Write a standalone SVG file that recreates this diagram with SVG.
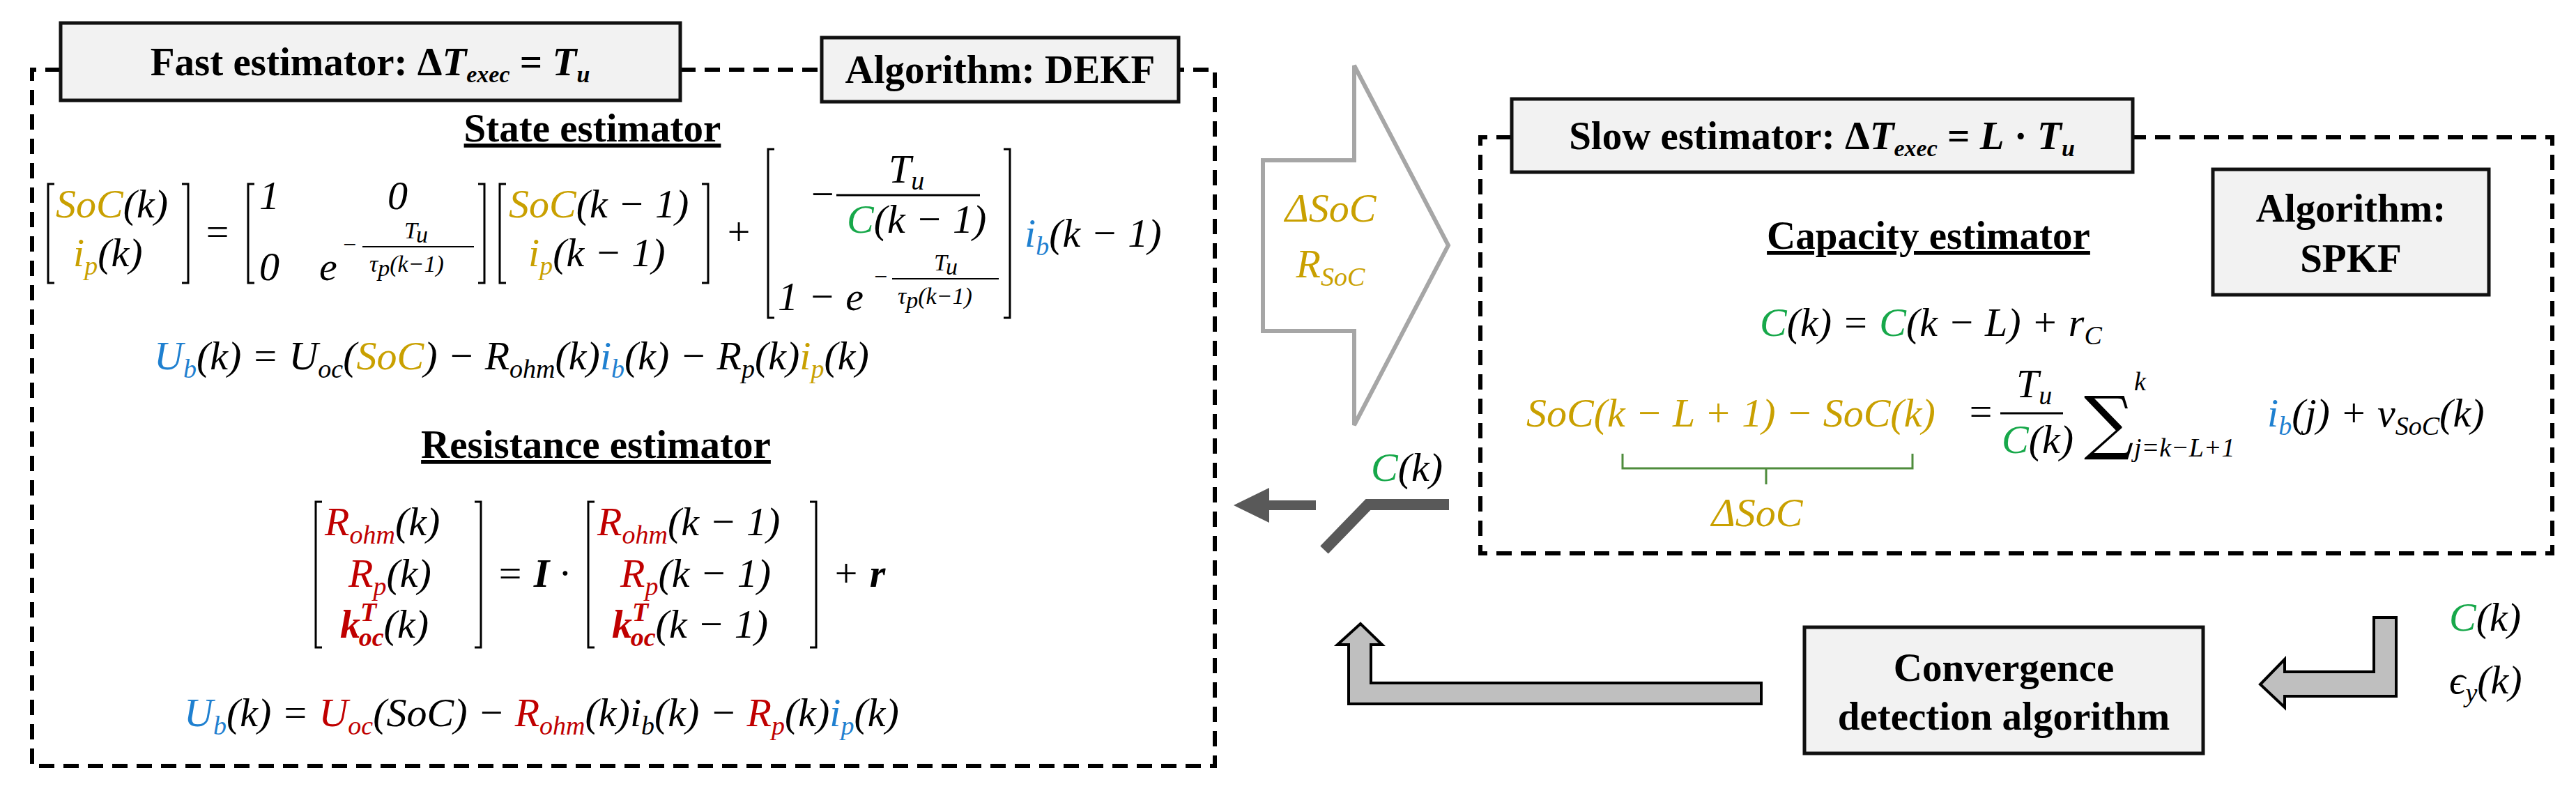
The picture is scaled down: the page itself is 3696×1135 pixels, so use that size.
<svg xmlns="http://www.w3.org/2000/svg" width="3696" height="1135" viewBox="0 0 3696 1135">
<style>
.dash{fill:none;stroke:#000;stroke-width:6;stroke-dasharray:22 13}
.box{fill:#f2f2f2;stroke:#111;stroke-width:5}
.t{font-family:"Liberation Serif",serif;font-weight:bold;font-size:57px;text-anchor:middle;fill:#000}
.u{text-decoration:underline}
.m{font-family:"Liberation Serif",serif;font-style:italic;font-size:58px;fill:#000}
.s{font-size:38px}
.e{font-size:34px}
.br{fill:none;stroke:#000;stroke-width:3}
.y{fill:#c9a000}.b{fill:#1f80d0}.g{fill:#17a84a}.r{fill:#c00000}
.ga{fill:#bfbfbf;stroke:#000;stroke-width:4}
</style>
<g id="connectors">
<polygon id="hollow-arrow" points="1812,230 1943,230 1943,94 2078,352 1943,610 1943,475 1812,475" fill="#fff" stroke="#a6a6a6" stroke-width="6"/>
<polygon points="1770,725 1821,700 1821,718 1888,718 1888,732 1821,732 1821,750" fill="#595959"/>
<polyline points="2079,724 1963,724 1900,789" fill="none" stroke="#595959" stroke-width="16"/>
<polygon class="ga" points="1935,1010 2527,1010 2527,980 1967,980 1967,925 1983,925 1952,895 1919,925 1935,925"/>
<polygon class="ga" points="3438,886 3406,886 3406,964 3278,964 3278,946 3243,982 3278,1015 3278,999 3438,999"/>
<path d="M2328,651 L2328,672 L2744,672 L2744,651 M2534,672 L2534,695" fill="none" stroke="#4e8c3c" stroke-width="3"/>
</g>
<g id="arrow-labels">
<text class="m y" x="1909" y="318" text-anchor="middle">ΔSoC</text>
<text class="m y" x="1909" y="398" text-anchor="middle">R<tspan class="s" dy="12">SoC</tspan></text>
<text class="m" x="1967" y="690"><tspan class="g">C</tspan>(k)</text>
<text class="m y" x="2521" y="755" text-anchor="middle">ΔSoC</text>
<text class="m" x="3514" y="905"><tspan class="g">C</tspan>(k)</text>
<text class="m" x="3514" y="995">ϵ<tspan class="s" dy="12">y</tspan><tspan dy="-12">(k)</tspan></text>
</g>
<g id="fast-estimator">
<path class="dash" d="M87,100 H46 V1099 H1743 V100 H1691 M976,100 H1179"/>
<rect class="box" x="87" y="33" width="889" height="111"/>
<text class="t" x="531" y="108">Fast estimator: Δ<tspan font-style="italic">T</tspan><tspan class="e" font-style="italic" dy="10">exec</tspan><tspan dy="-10"> = </tspan><tspan font-style="italic">T</tspan><tspan class="e" font-style="italic" dy="10">u</tspan></text>
<rect class="box" x="1179" y="54" width="512" height="92"/>
<text class="t" x="1435" y="119">Algorithm: DEKF</text>
<text class="t u" x="850" y="203">State estimator</text>
<path class="br" d="M78,264 H69 V406 H78 M261,264 H270 V406 H261"/>
<text class="m" x="80" y="312"><tspan class="y">SoC</tspan>(k)</text>
<text class="m" x="105" y="382"><tspan class="y">i<tspan class="s" dy="12">p</tspan></tspan><tspan dy="-12">(k)</tspan></text>
<text class="m" x="292" y="352">=</text>
<path class="br" d="M365,264 H356 V406 H365 M686,264 H695 V406 H686"/>
<text class="m" x="372" y="300">1</text>
<text class="m" x="556" y="300">0</text>
<text class="m" x="372" y="402">0</text>
<text class="m" x="458" y="402">e</text>
<text class="m e" x="490" y="362">−</text>
<line x1="520" y1="354" x2="680" y2="354" stroke="#000" stroke-width="2"/>
<text class="m e" x="580" y="342">T<tspan class="e" dy="6">u</tspan></text>
<text class="m e" x="530" y="390">τ<tspan dy="6">p</tspan><tspan dy="-6">(k−1)</tspan></text>
<path class="br" d="M726,264 H717 V406 H726 M1007,264 H1016 V406 H1007"/>
<text class="m" x="730" y="312"><tspan class="y">SoC</tspan>(k − 1)</text>
<text class="m" x="758" y="382"><tspan class="y">i<tspan class="s" dy="12">p</tspan></tspan><tspan dy="-12">(k − 1)</tspan></text>
<text class="m" x="1040" y="352">+</text>
<path class="br" d="M1111,214 H1102 V456 H1111 M1440,214 H1449 V456 H1440"/>
<text class="m" x="1160" y="298">−</text>
<line x1="1200" y1="280" x2="1406" y2="280" stroke="#000" stroke-width="3"/>
<text class="m" x="1275" y="262">T<tspan class="s" dy="10">u</tspan></text>
<text class="m" x="1215" y="334"><tspan class="g">C</tspan>(k − 1)</text>
<text class="m" x="1116" y="445">1 − e</text>
<text class="m e" x="1252" y="408">−</text>
<line x1="1280" y1="400" x2="1433" y2="400" stroke="#000" stroke-width="2"/>
<text class="m e" x="1340" y="388">T<tspan dy="6">u</tspan></text>
<text class="m e" x="1288" y="436">τ<tspan dy="6">p</tspan><tspan dy="-6">(k−1)</tspan></text>
<text class="m" x="1470" y="354"><tspan class="b">i<tspan class="s" dy="12">b</tspan></tspan><tspan dy="-12">(k − 1)</tspan></text>
<text class="m" x="221" y="530"><tspan class="b">U<tspan class="s" dy="12">b</tspan></tspan><tspan dy="-12">(k)  =  U</tspan><tspan class="s" dy="12">oc</tspan><tspan dy="-12">(</tspan><tspan class="y">SoC</tspan>)  −  R<tspan class="s" dy="12">ohm</tspan><tspan dy="-12">(k)</tspan><tspan class="b">i<tspan class="s" dy="12">b</tspan></tspan><tspan dy="-12">(k)  −  R</tspan><tspan class="s" dy="12">p</tspan><tspan dy="-12">(k)</tspan><tspan class="y">i<tspan class="s" dy="12">p</tspan></tspan><tspan dy="-12">(k)</tspan></text>
<text class="t u" x="855" y="657">Resistance estimator</text>
<path class="br" d="M462,720 H453 V929 H462 M681,720 H690 V929 H681"/>
<text class="m" x="466" y="768"><tspan class="r">R<tspan class="s" dy="12">ohm</tspan></tspan><tspan dy="-12">(k)</tspan></text>
<text class="m" x="500" y="842"><tspan class="r">R<tspan class="s" dy="12">p</tspan></tspan><tspan dy="-12">(k)</tspan></text>
<text class="m" x="488" y="915"><tspan class="r" font-weight="bold">k<tspan class="s" dy="-24">T</tspan><tspan class="s" dx="-22" dy="36">oc</tspan></tspan><tspan dy="-12">(k)</tspan></text>
<text class="m" x="712" y="842">= <tspan font-weight="bold">I</tspan> ·</text>
<path class="br" d="M853,720 H844 V929 H853 M1162,720 H1171 V929 H1162"/>
<text class="m" x="857" y="768"><tspan class="r">R<tspan class="s" dy="12">ohm</tspan></tspan><tspan dy="-12">(k − 1)</tspan></text>
<text class="m" x="890" y="842"><tspan class="r">R<tspan class="s" dy="12">p</tspan></tspan><tspan dy="-12">(k − 1)</tspan></text>
<text class="m" x="878" y="915"><tspan class="r" font-weight="bold">k<tspan class="s" dy="-24">T</tspan><tspan class="s" dx="-22" dy="36">oc</tspan></tspan><tspan dy="-12">(k − 1)</tspan></text>
<text class="m" x="1194" y="842">+ <tspan font-weight="bold">r</tspan></text>
<text class="m" x="264" y="1042"><tspan class="b">U<tspan class="s" dy="12">b</tspan></tspan><tspan dy="-12">(k)  =  </tspan><tspan class="r">U<tspan class="s" dy="12">oc</tspan></tspan><tspan dy="-12">(SoC)  −  </tspan><tspan class="r">R<tspan class="s" dy="12">ohm</tspan></tspan><tspan dy="-12">(k)i</tspan><tspan class="s" dy="12">b</tspan><tspan dy="-12">(k)  −  </tspan><tspan class="r">R<tspan class="s" dy="12">p</tspan></tspan><tspan dy="-12">(k)</tspan><tspan class="b">i<tspan class="s" dy="12">p</tspan></tspan><tspan dy="-12">(k)</tspan></text>
</g>
<g id="slow-estimator">
<path class="dash" d="M2169,197 H2124 V794 H3662 V197 H3060"/>
<rect class="box" x="2169" y="142" width="891" height="105"/>
<text class="t" x="2614" y="214">Slow estimator: Δ<tspan font-style="italic">T</tspan><tspan class="e" font-style="italic" dy="10">exec</tspan><tspan dy="-10"> = </tspan><tspan font-style="italic">L</tspan> · <tspan font-style="italic">T</tspan><tspan class="e" font-style="italic" dy="10">u</tspan></text>
<rect class="box" x="3175" y="243" width="396" height="180"/>
<text class="t" x="3373" y="318">Algorithm:</text>
<text class="t" x="3373" y="390">SPKF</text>
<text class="t u" x="2767" y="357">Capacity estimator</text>
<text class="m" x="2525" y="482"><tspan class="g">C</tspan>(k)  =  <tspan class="g">C</tspan>(k − L)  +  r<tspan class="s" dy="12">C</tspan></text>
<text class="m y" x="2190" y="612">SoC(k − L + 1) − SoC(k)</text>
<text class="m" x="2822" y="610">=</text>
<line x1="2870" y1="593" x2="2960" y2="593" stroke="#000" stroke-width="3"/>
<text class="m" x="2893" y="570">T<tspan class="s" dy="10">u</tspan></text>
<text class="m" x="2872" y="650"><tspan class="g">C</tspan>(k)</text>
<text x="2990" y="640" font-family="DejaVu Serif,serif" font-size="100">∑</text>
<text class="m s" x="3062" y="560">k</text>
<text class="m s" x="3062" y="655">j=k−L+1</text>
<text class="m" x="3253" y="612"><tspan class="b">i<tspan class="s" dy="12">b</tspan></tspan><tspan dy="-12">(j) + v</tspan><tspan class="s" dy="12">SoC</tspan><tspan dy="-12">(k)</tspan></text>
</g>
<g id="convergence">
<rect class="box" x="2589" y="900" width="572" height="181"/>
<text class="t" x="2875" y="977">Convergence</text>
<text class="t" x="2875" y="1047">detection algorithm</text>
</g>
</svg>
